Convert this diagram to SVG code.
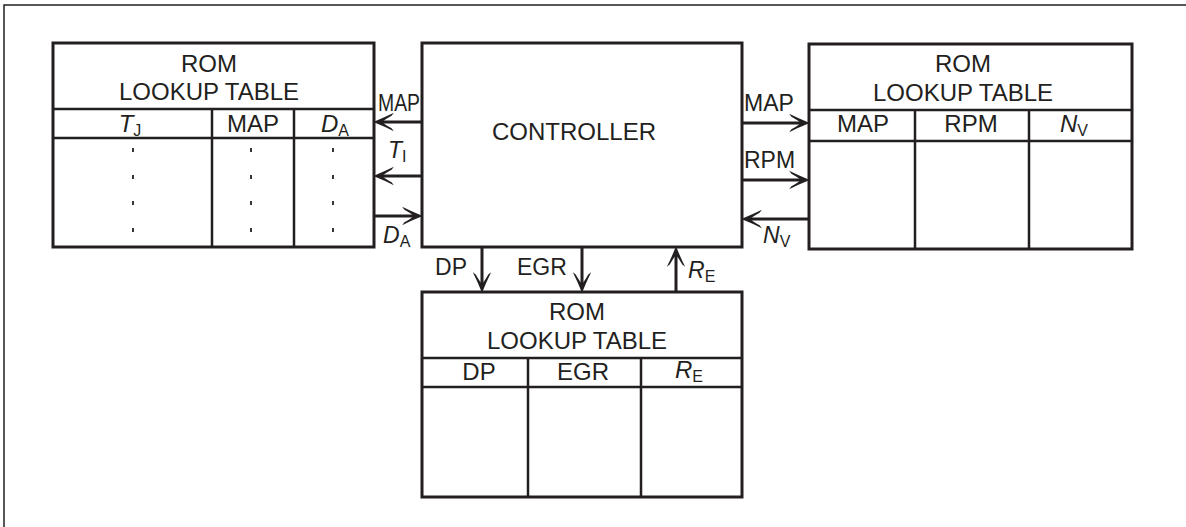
<svg xmlns="http://www.w3.org/2000/svg" width="1186" height="527" viewBox="0 0 1186 527">
<style>
.box{fill:#fff;stroke:#231f20;stroke-width:3}
.ln{stroke:#231f20;stroke-width:2.5;fill:none}
.arr{stroke:#231f20;stroke-width:3;fill:none;marker-end:url(#ah)}
.dot{stroke:#231f20;stroke-width:1.8}
text{font-family:"Liberation Sans",Arial,sans-serif;fill:#231f20}
.t{font-size:24px;text-anchor:middle}
.l{font-size:23px}
.sub{font-size:16px;font-style:normal}
.it{font-style:italic}
</style>
<defs>
<marker id="ah" markerUnits="userSpaceOnUse" markerWidth="24" markerHeight="24" viewBox="-1 -10 21 20" refX="13" refY="0" orient="auto">
<path d="M18,0 Q8,-4 0,-8 L2,-5.5 Q9,-1.5 10,0 Q9,1.5 2,5.5 L0,8 Q8,4 18,0 Z" fill="#231f20"/>
</marker>
</defs>
<rect width="1186" height="527" fill="#fff"/>
<path d="M4,527 V5 H1186" fill="none" stroke="#231f20" stroke-width="1.5"/>

<g id="rom-left">
<rect class="box" x="53" y="43" width="321" height="204"/>
<path class="ln" d="M53,109 H374 M53,138 H374 M212,109 V247 M294,109 V247"/>
<text class="t" x="209" y="72">ROM</text>
<text class="t" x="209" y="100">LOOKUP TABLE</text>
<text class="t" x="130" y="132"><tspan class="it">T</tspan><tspan class="sub" dy="4">J</tspan></text>
<text class="t" x="253" y="132">MAP</text>
<text class="t" x="335" y="132"><tspan class="it">D</tspan><tspan class="sub" dy="4">A</tspan></text>
<path class="dot" d="M133,148 v4 M133,175 v4 M133,201 v4 M133,228 v4 M251,148 v4 M251,175 v4 M251,201 v4 M251,228 v4 M333,148 v4 M333,175 v4 M333,201 v4 M333,228 v4"/>
</g>

<g id="controller">
<rect class="box" x="422" y="43" width="320" height="204"/>
<text class="t" x="574" y="140">CONTROLLER</text>
</g>

<g id="rom-right">
<rect class="box" x="809" y="44" width="323" height="205"/>
<path class="ln" d="M809,110 H1132 M809,141 H1132 M915,110 V249 M1029,110 V249"/>
<text class="t" x="963" y="72">ROM</text>
<text class="t" x="963" y="101">LOOKUP TABLE</text>
<text class="t" x="863" y="132">MAP</text>
<text class="t" x="971" y="132">RPM</text>
<text class="t" x="1074" y="132"><tspan class="it">N</tspan><tspan class="sub" dy="4">V</tspan></text>
</g>

<g id="rom-bottom">
<rect class="box" x="422" y="292" width="320" height="205"/>
<path class="ln" d="M422,358 H742 M422,387 H742 M528,358 V497 M641,358 V497"/>
<text class="t" x="577" y="320">ROM</text>
<text class="t" x="577" y="349">LOOKUP TABLE</text>
<text class="t" x="479" y="380">DP</text>
<text class="t" x="583" y="380">EGR</text>
<text class="t" x="689" y="378"><tspan class="it">R</tspan><tspan class="sub" dy="4">E</tspan></text>
</g>

<g id="connectors">
<path class="arr" d="M422,122 H379"/>
<path class="arr" d="M422,176 H379"/>
<path class="arr" d="M374,216 H417"/>
<path class="arr" d="M742,123 H804"/>
<path class="arr" d="M742,180 H804"/>
<path class="arr" d="M809,219 H747"/>
<path class="arr" d="M482,247 V287"/>
<path class="arr" d="M582,247 V287"/>
<path class="arr" d="M676,292 V252"/>
<text class="l" x="378" y="111" textLength="42" lengthAdjust="spacingAndGlyphs">MAP</text>
<text class="l" x="388" y="158"><tspan class="it">T</tspan><tspan class="sub" dy="4">I</tspan></text>
<text class="l" x="383" y="243"><tspan class="it">D</tspan><tspan class="sub" dy="4">A</tspan></text>
<text class="l" x="744" y="111">MAP</text>
<text class="l" x="744" y="168">RPM</text>
<text class="l" x="763" y="243"><tspan class="it">N</tspan><tspan class="sub" dy="4">V</tspan></text>
<text class="l" x="467" y="275" text-anchor="end">DP</text>
<text class="l" x="517" y="275">EGR</text>
<text class="l" x="688" y="278"><tspan class="it">R</tspan><tspan class="sub" dy="4">E</tspan></text>
</g>
</svg>
